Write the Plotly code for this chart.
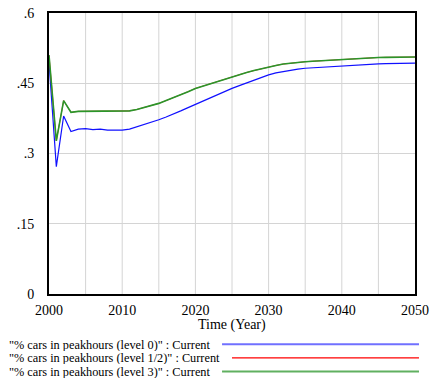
import plotly.graph_objects as go

years = list(range(2000, 2051))

level0 = [0.495, 0.272, 0.380, 0.347, 0.352, 0.353, 0.351, 0.352, 0.350, 0.350,
          0.350, 0.352, 0.357, 0.361, 0.366, 0.372, 0.378, 0.384, 0.391, 0.398,
          0.405, 0.411, 0.418, 0.425, 0.432, 0.439, 0.445, 0.451, 0.457, 0.463,
          0.468, 0.472, 0.475, 0.478, 0.480, 0.482, 0.483, 0.485, 0.486, 0.487,
          0.4875, 0.488, 0.489, 0.490, 0.491, 0.4915, 0.492, 0.4925, 0.493, 0.493,
          0.493]

level3 = [0.510, 0.327, 0.413, 0.388, 0.390, 0.390, 0.390, 0.390, 0.390, 0.390,
          0.390, 0.391, 0.394, 0.398, 0.402, 0.407, 0.413, 0.419, 0.426, 0.432,
          0.439, 0.444, 0.449, 0.454, 0.459, 0.463, 0.468, 0.473, 0.477, 0.481,
          0.485, 0.488, 0.491, 0.493, 0.495, 0.496, 0.497, 0.498, 0.499, 0.500,
          0.501, 0.502, 0.503, 0.504, 0.5045, 0.505, 0.5053, 0.5056, 0.5058, 0.506,
          0.506]

level_half = list(level3)

series_names = [
    '"% cars in peakhours (level 0)" : Current',
    '"% cars in peakhours (level 1/2)" : Current',
    '"% cars in peakhours (level 3)" : Current',
]
series_values = [level0, level_half, level3]
series_colors = ["#1010ff", "#ff0000", "#2a962a"]
series_widths = [1.2, 0.8, 1.6]

y_tickvals = [0, 0.15, 0.3, 0.45, 0.6]
y_ticktext = ["0", ".15", ".3", ".45", ".6"]
x_tickvals = [2000, 2010, 2020, 2030, 2040, 2050]

fig = go.Figure()
for name, vals, col, w in zip(series_names, series_values, series_colors, series_widths):
    fig.add_trace(go.Scatter(x=years, y=vals, mode="lines", name=name,
                             line=dict(color=col, width=w), showlegend=False))

FAM = "Liberation Serif"
font = dict(family=FAM, color="black")

fig.update_layout(
    width=435, height=385,
    margin=dict(l=49, r=18, t=6, b=91),
    paper_bgcolor="white", plot_bgcolor="white",
    font=dict(**font, size=14),
    xaxis=dict(range=[2000, 2050], tickvals=x_tickvals, showgrid=False,
               showline=True, linecolor="black", linewidth=2, mirror=True,
               ticks="", tickfont=dict(**font, size=14), zeroline=False,
               ticklabelstandoff=2),
    yaxis=dict(range=[0, 0.6], tickvals=y_tickvals, ticktext=y_ticktext,
               showgrid=True, gridcolor="#d4d4d4", gridwidth=1,
               showline=True, linecolor="black", linewidth=2, mirror=True,
               ticks="", tickfont=dict(**font, size=14), zeroline=False,
               ticklabelstandoff=10),
)

# vertical grid every 5 years
for yr in range(2005, 2050, 5):
    fig.add_shape(type="line", xref="x", yref="paper", x0=yr, x1=yr, y0=0, y1=1,
                  line=dict(color="#d4d4d4", width=1), layer="below")

fig.add_annotation(text="Time (Year)", xref="paper", yref="paper", x=0.5, y=-0.111,
                   showarrow=False, font=dict(**font, size=14), xanchor="center",
                   yanchor="middle")

legend_y = [-0.1788, -0.2274, -0.2760]
line_x0 = [0.4728, 0.5, 0.4728]
line_w = [2, 1.2, 2]
line_cols = ["#7070ff", "#ff0000", "#60b060"]
for name, ly, lx0, lw, lc in zip(series_names, legend_y, line_x0, line_w, line_cols):
    fig.add_annotation(text=name, xref="paper", yref="paper", x=-0.1114, y=ly,
                       showarrow=False, xanchor="left", yanchor="middle",
                       height=13, borderpad=0, valign="middle",
                       font=dict(**font, size=12.3))
    fig.add_shape(type="line", xref="paper", yref="paper", x0=lx0, x1=1.0109,
                  y0=ly, y1=ly, line=dict(color=lc, width=lw))

fig.write_html("out.html", post_script="document.body.style.margin='0';",
               config={"displayModeBar": False})
